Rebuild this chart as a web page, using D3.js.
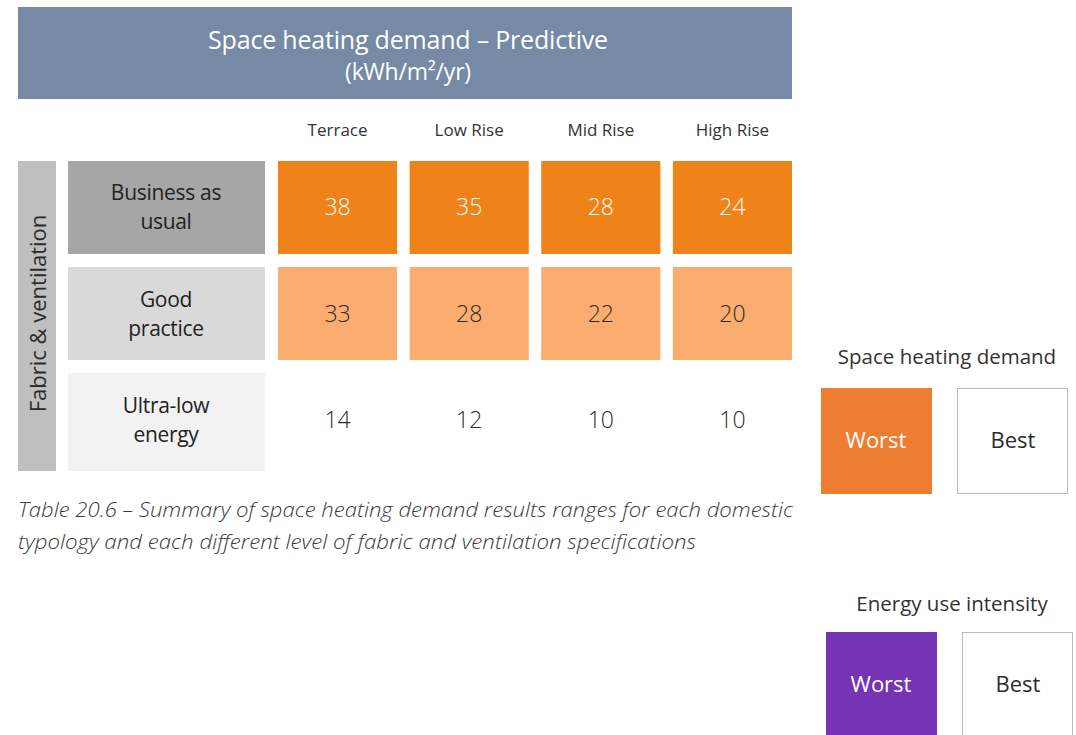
<!DOCTYPE html>
<html>
<head>
<meta charset="utf-8">
<script src="https://cdn.jsdelivr.net/npm/d3@7"></script>
<style>
  body { margin: 0; background: #fff; }
  text { font-family: "Open Sans", "Noto Sans", sans-serif; }
</style>
</head>
<body>
<div id="main"></div>
<script>
// data
var columns = ["Terrace", "Low Rise", "Mid Rise", "High Rise"];
var rowLabels = [["Business as", "usual"], ["Good", "practice"], ["Ultra-low", "energy"]];
var rowValues = [
  [38, 35, 28, 24],
  [33, 28, 22, 20],
  [14, 12, 10, 10]
];
var titleLines = ["Space heating demand \u2013 Predictive", "(kWh/m\u00b2/yr)"];
var captionLines = [
  "Table 20.6 \u2013 Summary of space heating demand results ranges for each domestic",
  "typology and each different level of fabric and ventilation specifications"
];
var captionWidths = [775, 678];

var rowFill = ["#f0821a", "#fbad6f", "#ffffff"];
var rowText = ["#ffffff", "#2b2b2b", "#2b2b2b"];
var labelFill = ["#a6a6a6", "#d9d9d9", "#f2f2f2"];

var width = 1076, height = 735;

var svg = d3.select("#main")
  .append("svg")
    .attr("width", width)
    .attr("height", height);

// scales for the grid
var x = d3.scaleBand()
  .domain(columns)
  .range([278, 792])
  .paddingInner(0.095);

var y = d3.scaleBand()
  .domain(d3.range(rowValues.length))
  .range([161, 466])
  .paddingInner(0.123);

// header block
svg.append("rect")
  .attr("x", 18).attr("y", 7)
  .attr("width", 774).attr("height", 92)
  .attr("fill", "#768aa6");

svg.append("g").selectAll("text")
  .data(titleLines)
  .enter()
  .append("text")
    .attr("x", 408)
    .attr("y", function(d, i) { return 49 + i * 31; })
    .attr("text-anchor", "middle")
    .attr("fill", "#fff")
    .attr("font-size", function(d, i) { return i == 0 ? 25 : 23; })
    .attr("letter-spacing", -0.2)
    .text(function(d) { return d; });

// column headers
svg.append("g").selectAll("text")
  .data(columns)
  .enter()
  .append("text")
    .attr("x", function(d) { return x(d) + x.bandwidth() / 2; })
    .attr("y", 136)
    .attr("text-anchor", "middle")
    .attr("fill", "#333")
    .attr("font-size", 17)
    .text(function(d) { return d; });

// side bar
svg.append("rect")
  .attr("x", 18).attr("y", y(0))
  .attr("width", 38).attr("height", y(2) + y.bandwidth() - y(0) + 5)
  .attr("fill", "#bfbfbf");

svg.append("text")
  .attr("transform", "translate(46," + ((y(0) + y(2) + y.bandwidth()) / 2) + ") rotate(-90)")
  .attr("text-anchor", "middle")
  .attr("fill", "#2b2b2b")
  .attr("font-size", 22)
  .text("Fabric & ventilation");

// row label boxes
var labels = svg.append("g").selectAll("g")
  .data(rowLabels)
  .enter()
  .append("g");

labels.append("rect")
  .attr("x", 68)
  .attr("y", function(d, i) { return y(i); })
  .attr("width", 197)
  .attr("height", function(d, i) { return y.bandwidth() + (i == 2 ? 5 : 0); })
  .attr("fill", function(d, i) { return labelFill[i]; });

labels.append("text")
  .attr("x", 166)
  .attr("y", function(d, i) { return y(i) + y.bandwidth() / 2 - 7; })
  .attr("text-anchor", "middle")
  .attr("fill", "#222")
  .attr("font-size", 21)
  .attr("letter-spacing", -0.3)
  .selectAll("tspan")
  .data(function(d) { return d; })
  .enter()
  .append("tspan")
    .attr("x", 166)
    .attr("dy", function(d, i) { return i == 0 ? 0 : 29; })
    .text(function(d) { return d; });

// value cells
var cells = [];
rowValues.forEach(function(vals, r) {
  vals.forEach(function(v, c) {
    cells.push({row: r, col: columns[c], value: v});
  });
});

var cell = svg.append("g").selectAll("g")
  .data(cells)
  .enter()
  .append("g");

cell.append("rect")
  .attr("x", function(d) { return x(d.col); })
  .attr("y", function(d) { return y(d.row); })
  .attr("width", x.bandwidth())
  .attr("height", y.bandwidth())
  .attr("fill", function(d) { return rowFill[d.row]; });

cell.append("text")
  .attr("x", function(d) { return x(d.col) + x.bandwidth() / 2; })
  .attr("y", function(d) { return y(d.row) + y.bandwidth() / 2 + 8; })
  .attr("text-anchor", "middle")
  .attr("fill", function(d) { return rowText[d.row]; })
  .attr("font-family", "Roboto, sans-serif")
  .attr("font-weight", 300)
  .attr("font-size", 23)
  .text(function(d) { return d.value; });

// caption
svg.append("g").selectAll("text")
  .data(captionLines)
  .enter()
  .append("text")
    .attr("x", 18)
    .attr("y", function(d, i) { return 517 + i * 32; })
    .attr("fill", "#3a3a3a")
    .attr("font-size", 20)
    .attr("font-style", "italic")
    .attr("font-weight", 300)
    .attr("textLength", function(d, i) { return captionWidths[i]; })
    .attr("lengthAdjust", "spacingAndGlyphs")
    .text(function(d) { return d; });

// legends
var legends = [
  {title: "Space heating demand", color: "#ed7d31", x: 821, y: 388, ty: 364},
  {title: "Energy use intensity", color: "#7434b4", x: 826, y: 632, ty: 611}
];

var leg = svg.append("g").selectAll("g")
  .data(legends)
  .enter()
  .append("g");

leg.append("text")
  .attr("x", function(d) { return d.x + 126; })
  .attr("y", function(d) { return d.ty; })
  .attr("text-anchor", "middle")
  .attr("fill", "#333")
  .attr("font-size", 20.5)
  .text(function(d) { return d.title; });

leg.append("rect")
  .attr("x", function(d) { return d.x; })
  .attr("y", function(d) { return d.y; })
  .attr("width", 111).attr("height", 106)
  .attr("fill", function(d) { return d.color; });

leg.append("rect")
  .attr("x", function(d) { return d.x + 136.5; })
  .attr("y", function(d) { return d.y + 0.5; })
  .attr("width", 110).attr("height", 105)
  .attr("fill", "#fff")
  .attr("stroke", "#bbb")
  .attr("stroke-width", 1);

leg.append("text")
  .attr("x", function(d) { return d.x + 55; })
  .attr("y", function(d) { return d.y + 60; })
  .attr("text-anchor", "middle")
  .attr("fill", "#fff")
  .attr("font-size", 22)
  .text("Worst");

leg.append("text")
  .attr("x", function(d) { return d.x + 192; })
  .attr("y", function(d) { return d.y + 60; })
  .attr("text-anchor", "middle")
  .attr("fill", "#2b2b2b")
  .attr("font-size", 22)
  .text("Best");
</script>
</body>
</html>
